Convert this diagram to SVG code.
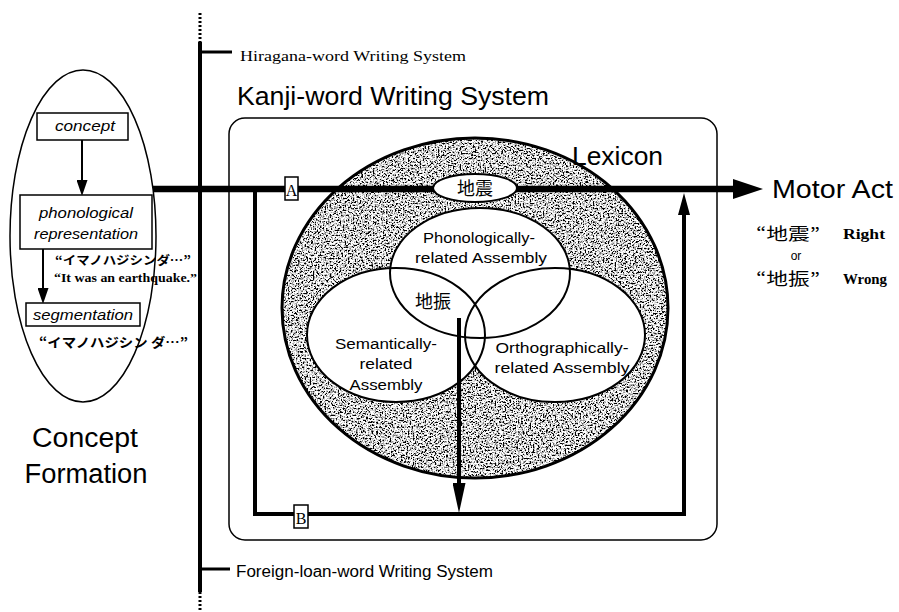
<svg xmlns="http://www.w3.org/2000/svg" width="899" height="612" viewBox="0 0 899 612">
<style>
.sans{font-family:"Liberation Sans",Arial,sans-serif;fill:#000}
.serif{font-family:"Liberation Serif","Times New Roman",serif;fill:#000}
.cjk{font-family:"Noto Sans CJK JP","Noto Sans CJK SC",sans-serif;fill:#000}
.it{font-style:italic}
.box{fill:#fff;stroke:#000;stroke-width:1.5}
.thin{fill:none;stroke:#000;stroke-width:1.5}
.asm{fill:none;stroke:#000;stroke-width:2}
.wf{fill:#fff;stroke:none}
.thick{stroke:#000;stroke-width:6.5;fill:none}
.med{stroke:#000;stroke-width:4;fill:none}
.arw{stroke:#000;stroke-width:2;fill:none}
</style>
<defs>
<marker id="hBig" viewBox="0 0 10 10" refX="0" refY="5" markerUnits="userSpaceOnUse" markerWidth="30" markerHeight="20" orient="auto" preserveAspectRatio="none"><path d="M0,0 L10,5 L0,10 z" fill="#000"/></marker>
<marker id="hMid" viewBox="0 0 10 10" refX="0" refY="5" markerUnits="userSpaceOnUse" markerWidth="30" markerHeight="13" orient="auto" preserveAspectRatio="none"><path d="M0,0 L10,5 L0,10 z" fill="#000"/></marker>
<marker id="hUp" viewBox="0 0 10 10" refX="0" refY="5" markerUnits="userSpaceOnUse" markerWidth="22" markerHeight="12" orient="auto" preserveAspectRatio="none"><path d="M0,0 L10,5 L0,10 z" fill="#000"/></marker>
<marker id="hSm" viewBox="0 0 10 10" refX="0" refY="5" markerUnits="userSpaceOnUse" markerWidth="16" markerHeight="11" orient="auto" preserveAspectRatio="none"><path d="M0,0 L10,5 L0,10 z" fill="#000"/></marker>
<filter id="grain" x="0" y="0" width="1" height="1">
<feTurbulence type="fractalNoise" baseFrequency="0.6" numOctaves="4" seed="11" result="n"/>
<feColorMatrix in="n" type="matrix" values="4.5 0 0 0 -1.6  4.5 0 0 0 -1.6  4.5 0 0 0 -1.6  0 0 0 0 1" result="d"/>
<feComposite in="d" in2="SourceGraphic" operator="in"/>
</filter>
</defs>
<rect width="899" height="612" fill="#fff"/>

<g id="writing-system-axis">
<line x1="200" y1="42" x2="200" y2="592" stroke="#000" stroke-width="4"/>
<line x1="200" y1="13" x2="200" y2="42" stroke="#000" stroke-width="3" stroke-dasharray="2,2"/>
<line x1="200" y1="592" x2="200" y2="612" stroke="#000" stroke-width="3" stroke-dasharray="2,2"/>
</g>

<g id="hiragana-system">
<line x1="200" y1="52" x2="232" y2="52" stroke="#000" stroke-width="3"/>
<text class="serif" x="240" y="61" font-size="15" textLength="226" lengthAdjust="spacingAndGlyphs">Hiragana-word Writing System</text>
</g>

<g id="foreign-system">
<line x1="200" y1="569" x2="230" y2="569" stroke="#000" stroke-width="3"/>
<text class="sans" x="236" y="577" font-size="16" textLength="257" lengthAdjust="spacingAndGlyphs">Foreign-loan-word Writing System</text>
</g>

<g id="kanji-system">
<text class="sans" x="237" y="105" font-size="25" textLength="312" lengthAdjust="spacingAndGlyphs">Kanji-word Writing System</text>
<rect x="229" y="118" width="488" height="422" rx="16" ry="16" class="thin"/>
</g>

<g id="concept-formation">
<ellipse cx="83" cy="236" rx="73" ry="166" class="thin"/>
<text class="sans" x="85" y="447" font-size="27" text-anchor="middle" textLength="106" lengthAdjust="spacingAndGlyphs">Concept</text>
<text class="sans" x="86" y="483" font-size="27" text-anchor="middle" textLength="123" lengthAdjust="spacingAndGlyphs">Formation</text>
</g>

<g id="lexicon">
<ellipse cx="475" cy="308" rx="193" ry="170" fill="#000" filter="url(#grain)"/>
<ellipse cx="475" cy="308" rx="193" ry="170" fill="none" stroke="#000" stroke-width="3"/>
<text class="sans" x="572" y="165" font-size="25" textLength="91" lengthAdjust="spacingAndGlyphs">Lexicon</text>
</g>

<g id="assemblies-fill">
<ellipse cx="480" cy="273" rx="90" ry="65" class="wf"/>
<ellipse cx="396" cy="335" rx="89" ry="67" class="wf"/>
<ellipse cx="555" cy="335" rx="90" ry="67" class="wf"/>
</g>
<g id="phonological-assembly">
<ellipse cx="480" cy="273" rx="90" ry="65" class="asm"/>
<text class="sans" x="479" y="243" font-size="15.5" text-anchor="middle" textLength="112" lengthAdjust="spacingAndGlyphs">Phonologically-</text>
<text class="sans" x="481" y="263" font-size="15.5" text-anchor="middle" textLength="132" lengthAdjust="spacingAndGlyphs">related Assembly</text>
</g>
<g id="semantic-assembly">
<ellipse cx="396" cy="335" rx="89" ry="67" class="asm"/>
<text class="sans" x="386" y="349" font-size="15.5" text-anchor="middle" textLength="102" lengthAdjust="spacingAndGlyphs">Semantically-</text>
<text class="sans" x="386" y="369" font-size="15.5" text-anchor="middle" textLength="53" lengthAdjust="spacingAndGlyphs">related</text>
<text class="sans" x="386" y="390" font-size="15.5" text-anchor="middle" textLength="73" lengthAdjust="spacingAndGlyphs">Assembly</text>
</g>
<g id="orthographic-assembly">
<ellipse cx="555" cy="335" rx="90" ry="67" class="asm"/>
<text class="sans" x="562" y="353" font-size="15.5" text-anchor="middle" textLength="133" lengthAdjust="spacingAndGlyphs">Orthographically-</text>
<text class="sans" x="562" y="373" font-size="15.5" text-anchor="middle" textLength="135" lengthAdjust="spacingAndGlyphs">related Assembly</text>
</g>
<g id="wrong-word">
<text class="cjk" x="433" y="308" font-size="18" text-anchor="middle">地振</text>
</g>

<g id="connectors">
<line x1="153" y1="189" x2="733" y2="189" class="thick" marker-end="url(#hBig)"/>
<polyline points="255,189 255,514 684,514 684,215" class="med" marker-end="url(#hUp)"/>
<line x1="459" y1="318" x2="459" y2="483" class="med" marker-end="url(#hMid)"/>
<line x1="82" y1="140" x2="82" y2="180" class="arw" marker-end="url(#hSm)"/>
<line x1="43" y1="249" x2="43" y2="288" class="arw" marker-end="url(#hSm)"/>
</g>

<g id="right-word">
<ellipse cx="475" cy="188" rx="42" ry="14" fill="#fff" stroke="#000" stroke-width="2"/>
<text class="cjk" x="475" y="195" font-size="18" text-anchor="middle">地震</text>
</g>

<g id="label-A">
<rect x="285" y="177" width="13" height="23" class="box" stroke-width="1"/>
<text class="serif" x="291.5" y="196" font-size="16" text-anchor="middle">A</text>
</g>
<g id="label-B">
<rect x="294" y="505" width="14" height="23" class="box" stroke-width="1"/>
<text class="serif" x="301" y="524" font-size="16" text-anchor="middle">B</text>
</g>

<g id="concept">
<rect x="37" y="113" width="91" height="27" class="box"/>
<text class="sans it" x="85" y="131" font-size="15" text-anchor="middle" textLength="60" lengthAdjust="spacingAndGlyphs">concept</text>
</g>
<g id="phonological-representation">
<rect x="20" y="195" width="132" height="54" class="box"/>
<text class="sans it" x="86" y="218" font-size="15.5" text-anchor="middle" textLength="94" lengthAdjust="spacingAndGlyphs">phonological</text>
<text class="sans it" x="86" y="239" font-size="15.5" text-anchor="middle" textLength="104" lengthAdjust="spacingAndGlyphs">representation</text>
</g>
<g id="segmentation">
<rect x="26" y="303" width="114" height="23" class="box"/>
<text class="sans it" x="83" y="320" font-size="15.5" text-anchor="middle" textLength="100" lengthAdjust="spacingAndGlyphs">segmentation</text>
</g>
<g id="utterance-labels">
<text class="cjk" x="55" y="265" font-size="12" font-weight="bold" textLength="136" lengthAdjust="spacingAndGlyphs">“イマノハジシンダ…”</text>
<text class="serif" x="54" y="282" font-size="13.5" font-weight="bold" textLength="143" lengthAdjust="spacingAndGlyphs">“It was an earthquake.”</text>
<text class="cjk" x="39" y="347" font-size="13" font-weight="bold" textLength="149" lengthAdjust="spacingAndGlyphs">“イマノハジシン ダ…”</text>
</g>

<g id="motor-act">
<text class="sans" x="772" y="198" font-size="25" textLength="121" lengthAdjust="spacingAndGlyphs">Motor Act</text>
<text class="cjk" x="756" y="240" font-size="17" textLength="64" lengthAdjust="spacingAndGlyphs">“地震”</text>
<text class="serif" x="843" y="239" font-size="14.5" font-weight="bold" textLength="42" lengthAdjust="spacingAndGlyphs">Right</text>
<text class="sans" x="796" y="260" font-size="12" text-anchor="middle">or</text>
<text class="cjk" x="756" y="285" font-size="17" textLength="64" lengthAdjust="spacingAndGlyphs">“地振”</text>
<text class="serif" x="843" y="284" font-size="14.5" font-weight="bold" textLength="44" lengthAdjust="spacingAndGlyphs">Wrong</text>
</g>
</svg>
